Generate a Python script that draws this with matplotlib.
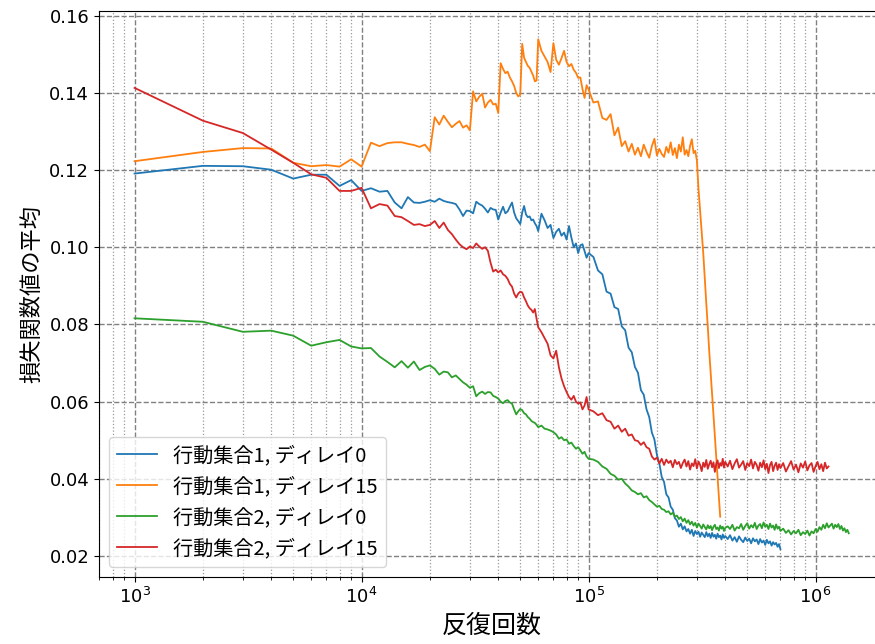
import matplotlib
matplotlib.use("Agg")
import matplotlib.pyplot as plt
from matplotlib.ticker import LogLocator, FormatStrFormatter

# iteration grid (in thousands of iterations)
iters_k = (list(range(1, 21)) + list(range(21, 61)) + list(range(62, 101, 2))
           + list(range(105, 401, 5)) + list(range(410, 701, 10)) + list(range(720, 1401, 20)))

labels = ["行動集合1, ディレイ0", "行動集合1, ディレイ15", "行動集合2, ディレイ0", "行動集合2, ディレイ15"]
colors = ["#1f77b4", "#ff7f0e", "#2ca02c", "#d62728"]

blue = [
    .1191, .1211, .1210, .1201, .1178, .1188, .1188, .1159, .1174, .1146,
    .1153, .1144, .1146, .1116, .1101, .1130, .1116, .1115, .1118, .1122,
    .1118, .1126, .1120, .1117, .1115, .1112, .1098, .1081, .1095, .1094,
    .1088, .1118, .1112, .1108, .1100, .1090, .1102, .1098, .1097, .1072,
    .1090, .1105, .1088, .1093, .1105, .1116, .1090, .1075, .1068, .1060,
    .1090, .1107, .1085, .1078, .1080, .1070, .1072, .1062, .1055, .1042,
    .1087, .1070, .1050, .1058, .1024, .1040, .1048, .1030, .1038, .1020,
    .1055, .1025, .1000, .1010, .0985, .1005, .1008, .0990, .0973, .0985,
    .0975, .0940, .0930, .0885, .0880, .0845, .0840, .0795, .0785, .0740,
    .0728, .0690, .0675, .0630, .0618, .0580, .0560, .0520, .0502, .0462,
    .0440, .0405, .0392, .0360, .0352, .0328, .0320, .0298, .0292,
    .0276, .0284, .0269, .0277, .0264, .0270, .0258, .0268, .0252, .0265,
    .0257, .0263, .0250, .0261, .0255, .0249, .0262, .0251, .0258, .0247,
    .0260, .0250, .0255, .0245, .0258, .0249, .0253, .0243, .0256, .0247,
    .0252,
    .0244, .0254, .0240, .0249, .0237, .0251, .0242, .0236, .0248, .0239,
    .0245, .0233, .0246, .0238, .0243, .0231, .0244, .0235, .0240, .0229,
    .0242, .0233, .0238, .0227, .0236, .0230, .0234, .0224, .0231, .0218,
]

orange = [
    .1223, .1247, .1257, .1256, .1219, .1210, .1213, .1209, .1228, .1209,
    .1271, .1262, .1270, .1272, .1272, .1268, .1265, .1260, .1266, .1249,
    .1337, .1318, .1341, .1325, .1311, .1320, .1327, .1310, .1316, .1303,
    .1404, .1378, .1390, .1398, .1362, .1375, .1382, .1370, .1372, .1348,
    .1477, .1462, .1451, .1455, .1440, .1430, .1418, .1400, .1391, .1395,
    .1527, .1491, .1480, .1470, .1465, .1455, .1445, .1430, .1432, .1539,
    .1509, .1494, .1480, .1454, .1529, .1486, .1473, .1490, .1509, .1480,
    .1469, .1475, .1460, .1452, .1439, .1440, .1410, .1387, .1420, .1409,
    .1375, .1378, .1335, .1330, .1345, .1290, .1310, .1262, .1275,
    .1248, .1268, .1240, .1258, .1236, .1266, .1247, .1232, .1262, .1281,
    .1238, .1255, .1242, .1234, .1260, .1245, .1272, .1239, .1257, .1231,
    .1266, .1248, .1285, .1240, .1252, .1236, .1263, .1280, .1244,
    .1250, .1225, .1150, .1095, .1040, .0985, .0919, .0855, .0795, .0731,
    .0676, .0621, .0565, .0509, .0457, .0405, .0353, .0302,
]

green = [
    .0816, .0807, .0781, .0784, .0771, .0745, .0754, .0760, .0743, .0738,
    .0739, .0717, .0703, .0689, .0705, .0688, .0704, .0682, .0690, .0694,
    .0685, .0670, .0678, .0676, .0663, .0668, .0659, .0650, .0644, .0636,
    .0640, .0614, .0622, .0626, .0620, .0625, .0624, .0615, .0612, .0608,
    .0600, .0596, .0602, .0604, .0598, .0595, .0580, .0567, .0575, .0581,
    .0578, .0570, .0567, .0560, .0556, .0550, .0547, .0545, .0540, .0534,
    .0538, .0530, .0528, .0525, .0521, .0515, .0504, .0508, .0500, .0502,
    .0491, .0494, .0485, .0478, .0482, .0474, .0465, .0470, .0458, .0452,
    .0450, .0444, .0432, .0426, .0413, .0408, .0398, .0400, .0388, .0380,
    .0370, .0366, .0360, .0363, .0352, .0355, .0345, .0340, .0334, .0328,
    .0330, .0322, .0320, .0314, .0316, .0308, .0312, .0302, .0305,
    .0296, .0301, .0290, .0297, .0286, .0293, .0282, .0289, .0279, .0286,
    .0274, .0284, .0278, .0271, .0282, .0275, .0269, .0280, .0272, .0278,
    .0267, .0276, .0281, .0270, .0274, .0266, .0279, .0271, .0276, .0265,
    .0273,
    .0277, .0270, .0281, .0266, .0275, .0272, .0283, .0268, .0278, .0285,
    .0271, .0280, .0274, .0286, .0270, .0279, .0283, .0272, .0287, .0276,
    .0281, .0270, .0284, .0274, .0279, .0268, .0282, .0271, .0276, .0265,
    .0271, .0260, .0267, .0256, .0265, .0259, .0268, .0254, .0262, .0257,
    .0266, .0253, .0264, .0259, .0270, .0263, .0275, .0268, .0281, .0272,
    .0285, .0274, .0279, .0284, .0271, .0281, .0275, .0283, .0270, .0278,
    .0266, .0272, .0262, .0268, .0259,
]

red = [
    .1413, .1328, .1296, .1253, .1219, .1189, .1180, .1146, .1146, .1154,
    .1101, .1112, .1108, .1081, .1078, .1068, .1058, .1060, .1055, .1058,
    .1068, .1050, .1064, .1045, .1034, .1020, .1008, .1000, .0995, .1002,
    .0998, .1010, .1002, .0996, .1000, .0991, .0960, .0937, .0942, .0935,
    .0940, .0930, .0926, .0918, .0905, .0898, .0880, .0870, .0880, .0885,
    .0883, .0870, .0860, .0849, .0842, .0838, .0831, .0840, .0815, .0793,
    .0780, .0765, .0750, .0720, .0712, .0732, .0689, .0660, .0640, .0625,
    .0612, .0605, .0615, .0600, .0595, .0598, .0580, .0590, .0612, .0580,
    .0575, .0565, .0570, .0552, .0548, .0530, .0538, .0522, .0530, .0512,
    .0515, .0500, .0498, .0488, .0495, .0482, .0478, .0458, .0450,
    .0455, .0440, .0452, .0436, .0450, .0441, .0447, .0430, .0449, .0438,
    .0444, .0428, .0441, .0450, .0432, .0446, .0424, .0440, .0433, .0451,
    .0427, .0445, .0436, .0420, .0442, .0431, .0449, .0426, .0438, .0447,
    .0430, .0443, .0418, .0439, .0448, .0428, .0441, .0434, .0452, .0429,
    .0444,
    .0432, .0447, .0425, .0440, .0451, .0429, .0437, .0446, .0423, .0441,
    .0433, .0450, .0427, .0444, .0436, .0421, .0442, .0430, .0448, .0425,
    .0439, .0415, .0436, .0444, .0420, .0434, .0442, .0423, .0438, .0428,
    .0441, .0419, .0433, .0446, .0424, .0437, .0417, .0440, .0429, .0445,
    .0422, .0435, .0441, .0418, .0433, .0444, .0425, .0438, .0420, .0442,
    .0427, .0432,
]

series = [blue, orange, green, red]

plt.rcParams['font.family'] = ['DejaVu Sans', 'Noto Sans CJK JP']
cjk = ['Noto Sans CJK JP', 'DejaVu Sans']

fig = plt.figure(figsize=(8.75, 6.44), dpi=100)
ax = fig.add_axes([0.1131, 0.1036, 0.8971, 0.8786])

for ys, c, lab in zip(series, colors, labels):
    xs = [1000 * k for k in iters_k[:len(ys)]]
    ax.plot(xs, ys, color=c, lw=1.3, label=lab)

ax.set_xscale('log')
ax.set_xlim(697, 2.0e6)
ax.set_ylim(0.0145, 0.1611)
ax.set_yticks([0.02, 0.04, 0.06, 0.08, 0.10, 0.12, 0.14, 0.16])
ax.yaxis.set_major_formatter(FormatStrFormatter('%.2f'))
ax.xaxis.set_minor_locator(LogLocator(base=10, subs=range(2, 10), numticks=20))

ax.grid(True, which='major', linestyle='--', color='#808080', lw=1.0)
ax.grid(True, which='minor', axis='x', linestyle=':', color='#999999', lw=0.9)
ax.tick_params(axis='both', which='major', labelsize=13)

ax.set_xlabel('反復回数', fontsize=18, family=cjk)
ax.set_ylabel('損失関数値の平均', fontsize=16, family=cjk)

ax.legend(loc='lower left', prop={'family': cjk, 'size': 14.5})

fig.savefig('out.png', dpi=100)
